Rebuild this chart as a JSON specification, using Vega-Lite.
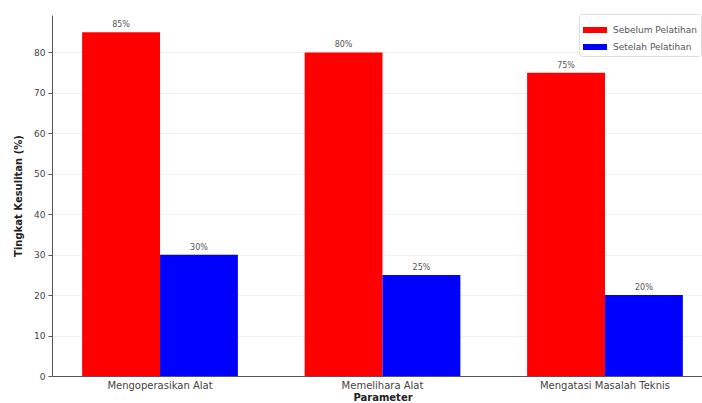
{
  "$schema": "https://vega.github.io/schema/vega-lite/v6.json",
  "width": 661,
  "height": 361,
  "autosize": {"type": "none"},
  "padding": {"left": 52, "top": 15, "right": 0, "bottom": 27},
  "background": "white",
  "config": {
    "font": "DejaVu Sans",
    "view": {"stroke": null},
    "axis": {"labelColor": "#444", "titleColor": "#222", "domainColor": "#555", "tickColor": "#555", "labelFont": "DejaVu Sans", "titleFont": "DejaVu Sans"}
  },
  "data": {"values": [
    {"parameter": "Mengoperasikan Alat", "kondisi": "Sebelum Pelatihan", "nilai": 85, "label": "85%"},
    {"parameter": "Mengoperasikan Alat", "kondisi": "Setelah Pelatihan", "nilai": 30, "label": "30%"},
    {"parameter": "Memelihara Alat", "kondisi": "Sebelum Pelatihan", "nilai": 80, "label": "80%"},
    {"parameter": "Memelihara Alat", "kondisi": "Setelah Pelatihan", "nilai": 25, "label": "25%"},
    {"parameter": "Mengatasi Masalah Teknis", "kondisi": "Sebelum Pelatihan", "nilai": 75, "label": "75%"},
    {"parameter": "Mengatasi Masalah Teknis", "kondisi": "Setelah Pelatihan", "nilai": 20, "label": "20%"}
  ]},
  "encoding": {
    "x": {"field": "parameter", "type": "nominal", "sort": null,
      "scale": {"paddingInner": 0.3, "paddingOuter": 0.1355},
      "axis": {"title": "Parameter", "labelAngle": 0, "labelFontSize": 10, "titleFontSize": 10, "titleFontWeight": "bold", "titlePadding": 2, "ticks": false, "labelPadding": 4, "domainWidth": 1}},
    "xOffset": {"field": "kondisi", "type": "nominal", "sort": ["Sebelum Pelatihan", "Setelah Pelatihan"], "scale": {"paddingInner": 0, "paddingOuter": 0}},
    "y": {"field": "nilai", "type": "quantitative",
      "scale": {"domain": [0, 89.25], "nice": false},
      "axis": {"title": "Tingkat Kesulitan (%)", "values": [0,10,20,30,40,50,60,70,80], "grid": true, "gridColor": "#ebebeb", "gridWidth": 0.8, "labelFontSize": 9, "titleFontSize": 10, "titleFontWeight": "bold", "tickSize": 4, "labelPadding": 3, "titlePadding": 10}}
  },
  "layer": [
    {
      "mark": {"type": "bar"},
      "encoding": {
        "color": {"field": "kondisi", "type": "nominal", "sort": ["Sebelum Pelatihan", "Setelah Pelatihan"],
          "scale": {"domain": ["Sebelum Pelatihan", "Setelah Pelatihan"], "range": ["#ff0000", "#0000ff"]},
          "legend": {"title": null, "orient": "none", "legendX": 527, "legendY": -1, "symbolType": "M-1,-0.25H1V0.25H-1Z", "symbolSize": 576, "symbolStrokeWidth": 0, "labelFontSize": 9, "labelColor": "#555", "rowPadding": -10, "padding": 4, "strokeColor": "#dddddd", "fillColor": "white", "cornerRadius": 3, "labelOffset": 6}}
      }
    },
    {
      "mark": {"type": "text", "dy": -7, "fontSize": 8, "color": "#555"},
      "encoding": {"text": {"field": "label"}}
    }
  ]
}
